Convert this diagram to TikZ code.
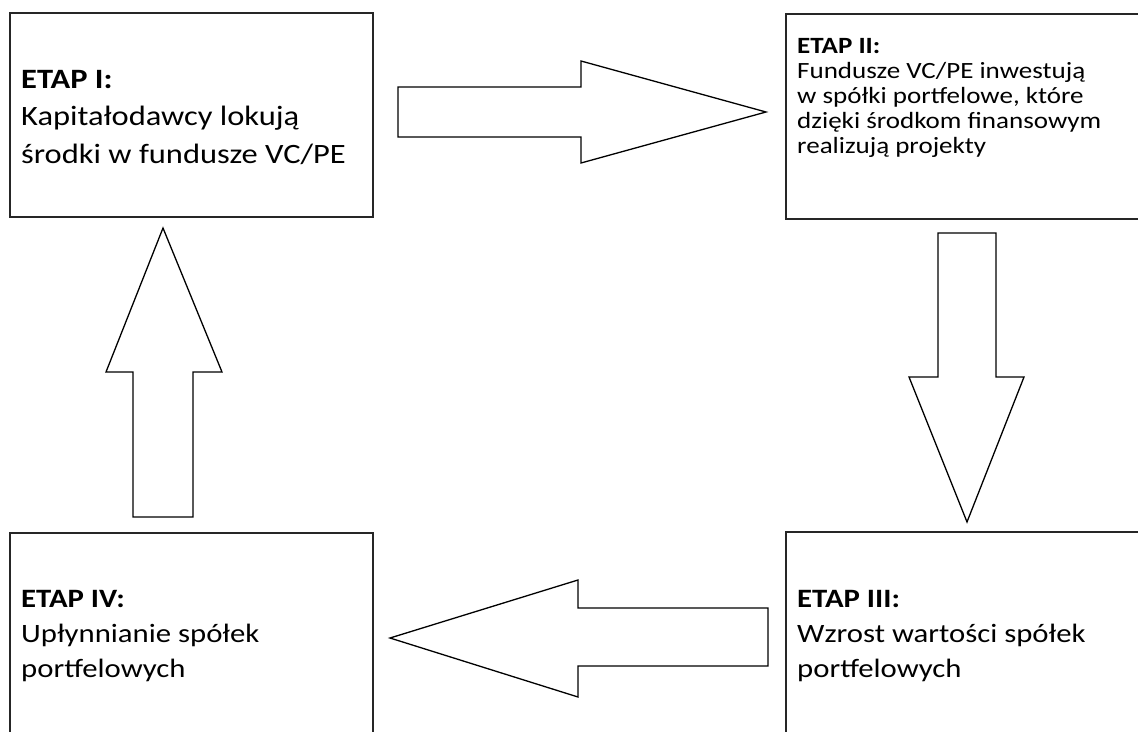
\documentclass[tikz,border=0pt]{standalone}
\usepackage{fontspec}
\setmainfont{Carlito}[FakeStretch=1.16]
\begin{document}
\begin{tikzpicture}[x=1pt,y=-1pt,
  stagebox/.style={draw=black!85, line width=1.8pt, rectangle, inner sep=0pt},
  blockarrow/.style={draw=black, line width=1.3pt, fill=white, line join=miter},
  lbl/.style={anchor=base west, align=left, inner sep=0pt, text=black}]
\useasboundingbox (0,0) rectangle (1138,731);
\clip (0,0) rectangle (1138,731);
% boxes
\node[stagebox, minimum width=363pt, minimum height=204pt] (b1) at (191.5,115) {};
\node[stagebox, minimum width=374pt, minimum height=205pt] (b2) at (973,116.5) {};
\node[stagebox, minimum width=374pt, minimum height=228pt] (b3) at (973,646) {};
\node[stagebox, minimum width=363pt, minimum height=227pt] (b4) at (191.5,646.5) {};
% texts (anchor = baseline of the last line)
\node[lbl, font=\fontsize{28}{37.5}\selectfont] (t1) at (21,163)
  {\textbf{ETAP I:}\\Kapitałodawcy lokują\\środki w fundusze VC/PE};
\node[lbl, font=\fontsize{23.3}{25}\selectfont] (t2) at (797,153)
  {\textbf{ETAP II:}\\Fundusze VC/PE inwestują\\w spółki portfelowe, które\\dzięki środkom finansowym\\realizują projekty};
\node[lbl, font=\fontsize{26.5}{35}\selectfont] (t3) at (797,677)
  {\textbf{ETAP III:}\\Wzrost wartości spółek\\portfelowych};
\node[lbl, font=\fontsize{26.5}{35}\selectfont] (t4) at (21,677)
  {\textbf{ETAP IV:}\\Upłynnianie spółek\\portfelowych};
% block arrows
\draw[blockarrow] (398,87) -- (581,87) -- (581,61) -- (766,112) -- (581,163) -- (581,137) -- (398,137) -- cycle;
\draw[blockarrow] (938,233) -- (996,233) -- (996,377) -- (1024,377) -- (967,522) -- (909,377) -- (938,377) -- cycle;
\draw[blockarrow] (768,608) -- (578,608) -- (578,580) -- (390,638) -- (578,697) -- (578,666) -- (768,666) -- cycle;
\draw[blockarrow] (133,517) -- (133,372) -- (106,372) -- (163,228) -- (222,372) -- (193,372) -- (193,517) -- cycle;
\end{tikzpicture}
\end{document}
